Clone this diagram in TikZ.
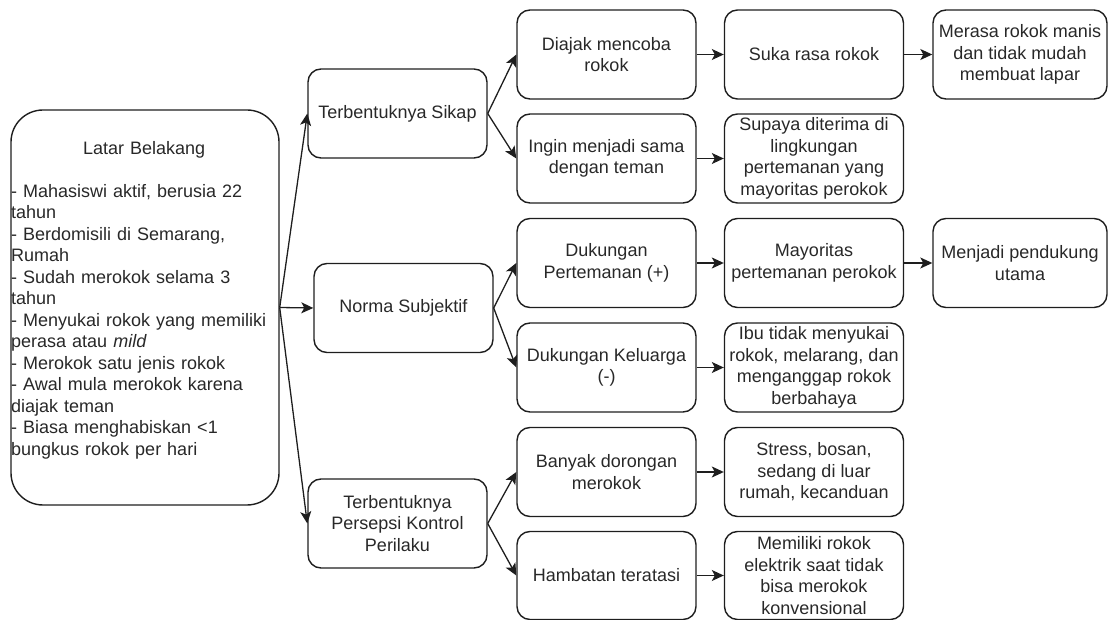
\documentclass[tikz,border=0pt]{standalone}
\usepackage{fontspec}
\setmainfont{Liberation Sans}
\usetikzlibrary{arrows.meta}
\definecolor{ink}{RGB}{30,30,30}
\definecolor{txt}{RGB}{40,40,40}
\begin{document}
\begin{tikzpicture}[x=1pt,y=-1pt,
  rbox/.style={draw=ink, line width=1.4pt, rounded corners=13pt,
    minimum width=179pt, minimum height=89pt, align=center, inner sep=2pt,
    font=\fontsize{18}{21.5}\selectfont, text=txt},
  arr/.style={draw=ink, line width=1.3pt, -{Stealth[length=12pt,width=11pt,inset=3pt]}}]
\useasboundingbox (0,0) rectangle (1109,620);

% Latar Belakang
\node[rbox, rounded corners=32pt, minimum width=268pt, minimum height=395pt] (lat) at (145,307.5) {};
\node[anchor=north west, align=left, text width=266pt, inner sep=0pt,
  font=\fontsize{18}{21.5}\selectfont, text=txt] (lattext) at (11,141)
{\makebox[266pt]{Latar Belakang}\\[21.5pt]
- Mahasiswi aktif, berusia 22\\
tahun\\
- Berdomisili di Semarang,\\
Rumah\\
- Sudah merokok selama 3\\
tahun\\
- Menyukai rokok yang memiliki\\
perasa atau \textit{mild}\\
- Merokok satu jenis rokok\\
- Awal mula merokok karena\\
diajak teman\\
- Biasa menghabiskan <1\\
bungkus rokok per hari};

% column 2
\node[rbox] (sikap) at (397.5,113.5) {Terbentuknya Sikap};
\node[rbox] (norma) at (403.5,308) {Norma Subjektif};
\node[rbox] (persepsi) at (397.5,523.5) {Terbentuknya\\Persepsi Kontrol\\Perilaku};

% column 3
\node[rbox] (diajak) at (606.5,54.5) {Diajak mencoba\\rokok};
\node[rbox] (ingin) at (606.5,158.5) {Ingin menjadi sama\\dengan teman};
\node[rbox] (dukp) at (606.5,263) {Dukungan\\Pertemanan (+)};
\node[rbox] (dukk) at (606.5,367.5) {Dukungan Keluarga\\(-)};
\node[rbox] (banyak) at (606.5,472) {Banyak dorongan\\merokok};
\node[rbox, minimum height=88pt] (hambat) at (606.5,575.5) {Hambatan teratasi};

% column 4
\node[rbox] (suka) at (814,54.5) {Suka rasa rokok};
\node[rbox] (supaya) at (814,158.5) {Supaya diterima di\\lingkungan\\pertemanan yang\\mayoritas perokok};
\node[rbox] (mayor) at (814,263) {Mayoritas\\pertemanan perokok};
\node[rbox] (ibu) at (814,367.5) {Ibu tidak menyukai\\rokok, melarang, dan\\menganggap rokok\\berbahaya};
\node[rbox] (stress) at (814,472) {Stress, bosan,\\sedang di luar\\rumah, kecanduan};
\node[rbox, minimum height=88pt] (memiliki) at (814,575.5) {Memiliki rokok\\elektrik saat tidak\\bisa merokok\\konvensional};

% column 5
\node[rbox, minimum width=174pt] (merasa) at (1020,54.5) {Merasa rokok manis\\dan tidak mudah\\membuat lapar};
\node[rbox, minimum width=174pt] (menjadi) at (1020,263) {Menjadi pendukung\\utama};

% connectors
\draw[arr] (lat.east) -- (sikap.west);
\draw[arr] (lat.east) -- (norma.west);
\draw[arr] (lat.east) -- (persepsi.west);

\draw[arr] (sikap.east) -- (diajak.west);
\draw[arr] (sikap.east) -- (ingin.west);
\draw[arr] (norma.east) -- (dukp.west);
\draw[arr] (norma.east) -- (dukk.west);
\draw[arr] (persepsi.east) -- (banyak.west);
\draw[arr] (persepsi.east) -- (hambat.west);

\draw[arr] (diajak) -- (suka);
\draw[arr] (ingin) -- (supaya);
\draw[arr] (dukp) -- (mayor);
\draw[arr] (dukk) -- (ibu);
\draw[arr] (banyak) -- (stress);
\draw[arr] (hambat) -- (memiliki);

\draw[arr] (suka) -- (merasa);
\draw[arr] (mayor) -- (menjadi);
\end{tikzpicture}
\end{document}
